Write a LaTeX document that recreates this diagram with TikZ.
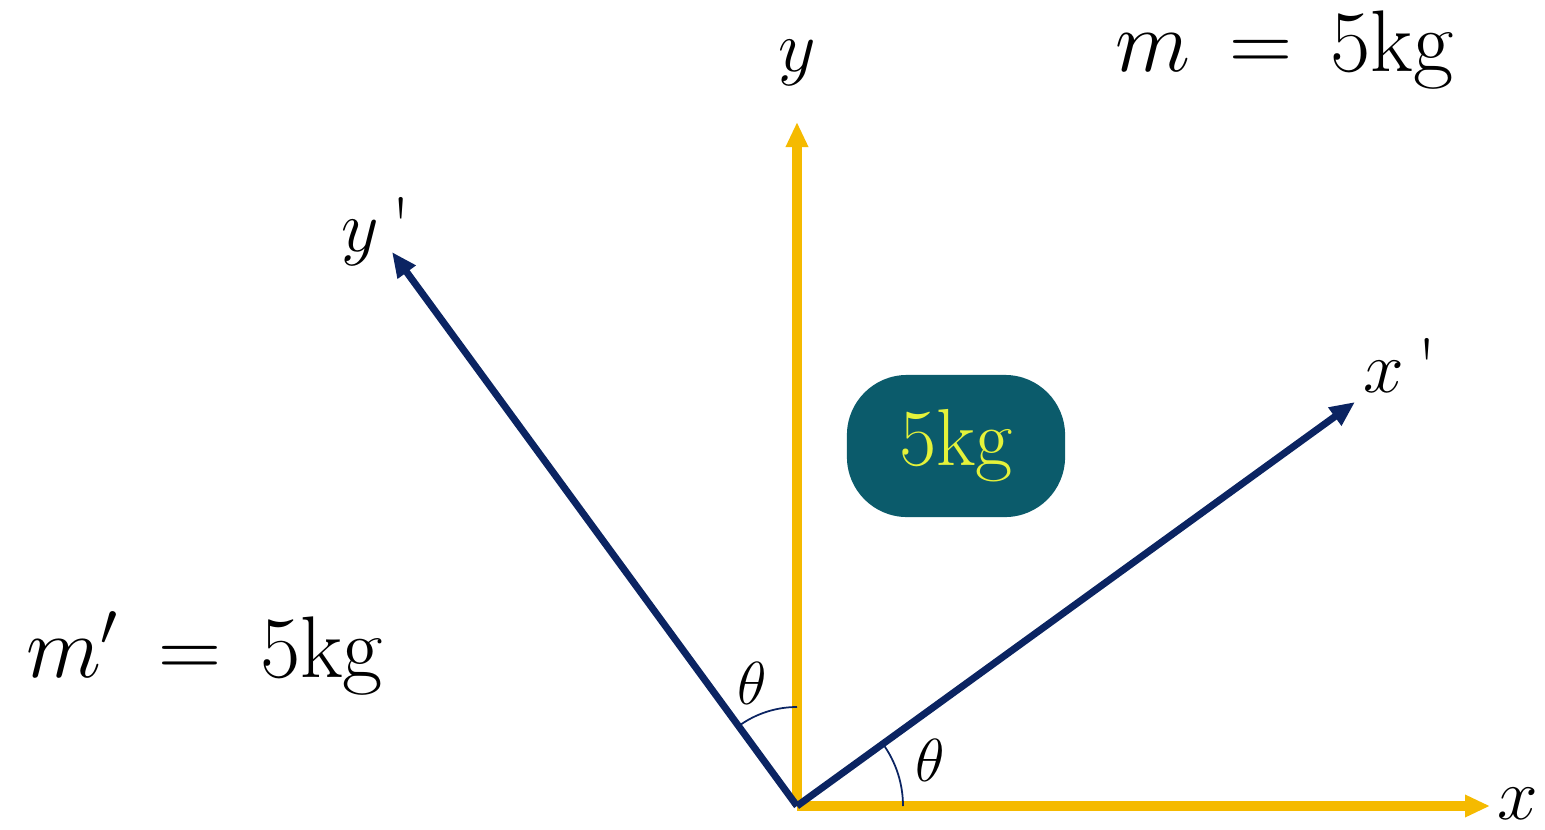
\documentclass[tikz,border=0pt]{standalone}
\usetikzlibrary{arrows.meta}
\definecolor{axisyellow}{HTML}{F5BA00}
\definecolor{axisnavy}{HTML}{0B2462}
\definecolor{boxteal}{HTML}{0B5B6B}
\definecolor{boxtext}{HTML}{E4F23A}
\tikzset{
  yaxis/.style={draw=axisyellow, line width=1.0mm, -{Stealth[length=2.5mm,width=2.1mm,inset=0pt]}},
  naxis/.style={draw=axisnavy, line width=0.7mm, -{Stealth[length=2.5mm,width=2.1mm,inset=0pt]}},
  anglearc/.style={draw=axisnavy, line width=0.5pt},
  biglabel/.style={font=\fontsize{26}{30}\selectfont, inner sep=0pt},
  axlabel/.style={font=\fontsize{22}{26}\selectfont, inner sep=0pt},
  thlabel/.style={font=\fontsize{19}{22}\selectfont, inner sep=0pt},
  massbox/.style={fill=boxteal, rounded corners=6mm, minimum width=2.18cm, minimum height=1.42cm, text=boxtext, font=\fontsize{23}{26}\selectfont}
}
\begin{document}
\begin{tikzpicture}[x=0.01cm,y=0.01cm]
\useasboundingbox (0,0) rectangle (1545,829);
\coordinate (O) at (797,23);
\coordinate (xtip) at (1490,23);
\coordinate (ytip) at (797,707);
\coordinate (yptip) at (392,577);
\coordinate (xptip) at (1355,427);
\draw[yaxis] (O) -- (xtip);
\draw[yaxis] (O) -- (ytip);
\draw[naxis] (O) -- (yptip);
\draw[naxis] (O) -- (xptip);
\draw[anglearc] (O) ++(90:99) arc (90:126.2:99);
\draw[anglearc] (O) ++(0:106) arc (0:35.9:106);
\node[axlabel] (ylab) at (797,766) {$y$};
\node[axlabel] (xlab) at (1518,25) {$x$};
\node[axlabel] (yplab) at (376,597) {$y$\,\textquotesingle};
\node[axlabel] (xplab) at (1400,464) {$x$\,\textquotesingle};
\node[thlabel] (th1) at (752,146) {$\theta$};
\node[thlabel] (th2) at (930,69) {$\theta$};
\node[massbox] (box) at (956,383) {5kg};
\node[biglabel] (mlab) at (1285,779) {$m\,=\,5\mathrm{kg}$};
\node[biglabel] (mplab) at (205,176) {$m'\,=\,5\mathrm{kg}$};
\end{tikzpicture}
\end{document}
